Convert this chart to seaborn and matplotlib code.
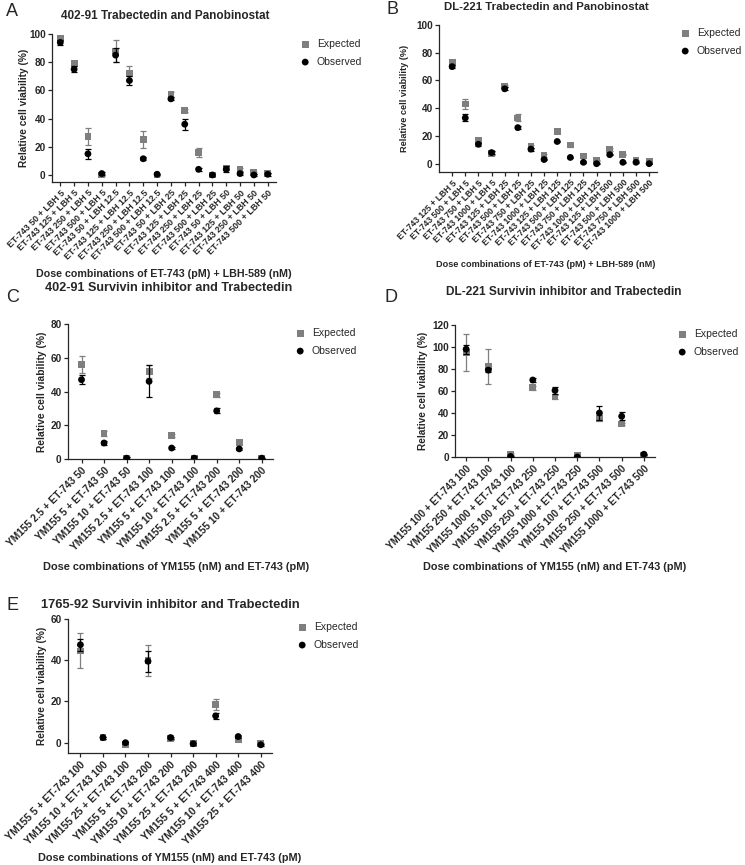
import matplotlib
matplotlib.use("Agg")
import matplotlib.pyplot as plt
import numpy as np
import pandas as pd
import seaborn as sns

# panel A: 402-91 trabectedin + panobinostat
a_labels = ["ET-743 50 + LBH 5", "ET-743 125 + LBH 5", "ET-743 250 + LBH 5", "ET-743 500 + LBH 5",
            "ET-743 50 + LBH 12.5", "ET-743 125 + LBH 12.5", "ET-743 250 + LBH 12.5", "ET-743 500 + LBH 12.5",
            "ET-743 50 + LBH 25", "ET-743 125 + LBH 25", "ET-743 250 + LBH 25", "ET-743 500 + LBH 25",
            "ET-743 50 + LBH 50", "ET-743 125 + LBH 50", "ET-743 250 + LBH 50", "ET-743 500 + LBH 50"]
a_expected = [97, 79, 27, 0, 88, 72, 25, 0, 57, 46, 16, 0, 5, 4, 1.5, 1]
a_expected_err = [1.5, 1.5, 6, 0.5, 8, 5, 6, 0.5, 1.5, 1, 3, 0.5, 1, 1, 0.5, 0.5]
a_observed = [94, 75, 15, 1, 85, 67, 11.5, 0.5, 54, 36, 4, 0, 4, 1, 0, 0.5]
a_observed_err = [1.5, 2, 3.5, 1, 5, 3.5, 1, 0.5, 1, 4, 1, 0.5, 2, 1, 0.5, 1]

# panel B: DL-221 trabectedin + panobinostat
b_labels = ["ET-743 125 + LBH 5", "ET-743 500 + LBH 5", "ET-743 750 + LBH 5", "ET-743 1000 + LBH 5",
            "ET-743 125 + LBH 25", "ET-743 500 + LBH 25", "ET-743 750 + LBH 25", "ET-743 1000 + LBH 25",
            "ET-743 125 + LBH 125", "ET-743 500 + LBH 125", "ET-743 750 + LBH 125", "ET-743 1000 + LBH 125",
            "ET-743 125 + LBH 500", "ET-743 500 + LBH 500", "ET-743 750 + LBH 500", "ET-743 1000 + LBH 500"]
b_expected = [73, 43, 17, 7.5, 56, 33, 12.5, 6, 23, 13.5, 5.5, 2.5, 10.5, 6.5, 2.5, 1.5]
b_expected_err = [1.5, 3.5, 1.5, 1, 1, 2.5, 1, 1, 1, 1.5, 0.5, 0.5, 1, 0.5, 0.5, 0.5]
b_observed = [70, 33, 14, 8, 54, 26, 10.5, 3, 16, 4.5, 1, 0, 6.5, 1, 1, 0]
b_observed_err = [1, 2.5, 1, 1, 1, 1, 1, 0.5, 0.5, 0.5, 0.5, 0.5, 0.5, 0.5, 0.5, 0.5]

# panel C: 402-91 survivin inhibitor + trabectedin
c_labels = ["YM155 2.5 + ET-743 50", "YM155 5 + ET-743 50", "YM155 10 + ET-743 50",
            "YM155 2.5 + ET-743 100", "YM155 5 + ET-743 100", "YM155 10 + ET-743 100",
            "YM155 2.5 + ET-743 200", "YM155 5 + ET-743 200", "YM155 10 + ET-743 200"]
c_expected = [56, 15, 0.5, 52, 14, 0.5, 38, 10, 0.5]
c_expected_err = [5, 1.5, 0.5, 4, 1, 0.5, 1, 0.5, 0.3]
c_observed = [47, 9.5, 0.5, 46, 6.5, 0.5, 28.5, 6, 0.5]
c_observed_err = [2.5, 1, 0.5, 9.5, 0.5, 1, 1.5, 0.5, 0.3]

# panel D: DL-221 survivin inhibitor + trabectedin
d_labels = ["YM155 100 + ET-743 100", "YM155 250 + ET-743 100", "YM155 1000 + ET-743 100",
            "YM155 100 + ET-743 250", "YM155 250 + ET-743 250", "YM155 1000 + ET-743 250",
            "YM155 100 + ET-743 500", "YM155 250 + ET-743 500", "YM155 1000 + ET-743 500"]
d_expected = [95, 82, 2.5, 63, 54.5, 1.5, 35, 30, 1]
d_expected_err = [17, 16, 1, 2, 2, 0.5, 2, 1, 0.5]
d_observed = [98, 79, 0.5, 70, 60.5, 0, 40, 37, 2.5]
d_observed_err = [4, 2, 0.5, 2, 3, 0.5, 6, 3.5, 0.5]

# panel E: 1765-92 survivin inhibitor + trabectedin
e_labels = ["YM155 5 + ET-743 100", "YM155 10 + ET-743 100", "YM155 25 + ET-743 100",
            "YM155 5 + ET-743 200", "YM155 10 + ET-743 200", "YM155 25 + ET-743 200",
            "YM155 5 + ET-743 400", "YM155 10 + ET-743 400", "YM155 25 + ET-743 400"]
e_expected = [44.5, 2.5, -1, 40, 2, -0.5, 18.5, 1.5, -0.5]
e_expected_err = [8.5, 0.5, 0.5, 7.5, 0.5, 0.5, 2.5, 0.5, 0.5]
e_observed = [47.5, 2.5, 0, 39.5, 2.5, -0.5, 13, 3, -1]
e_observed_err = [3, 0.5, 0.5, 5, 0.5, 0.5, 1.5, 0.5, 0.5]

sns.set_style("ticks")
plt.rcParams["font.family"] = ["Liberation Sans", "DejaVu Sans"]

W, H = 745, 865
fig = plt.figure(figsize=(W / 100, H / 100), dpi=100)

GRAY = "#7f7f7f"


def px_axes(left, top, right, bottom):
    return fig.add_axes([left / W, 1 - bottom / H, (right - left) / W, (bottom - top) / H])


def panel(rect, letter, letter_xy, title, title_xy, xlabel, xlabel_xy, labels, exp, exp_err, obs, obs_err,
          ylim, yticks, xlim, legend_xy, ylabel_x, tick_fs, title_fs, xlabel_fs, ylabel_fs):
    ax = px_axes(*rect)
    x = np.arange(len(labels))
    ax.errorbar(x, exp, yerr=exp_err, fmt="none", ecolor=GRAY, elinewidth=0.9, capsize=2.5,
                capthick=0.9, zorder=2)
    sns.scatterplot(x=x, y=exp, color=GRAY, marker="s", s=24, edgecolor="none", label="Expected",
                    ax=ax, zorder=3)
    ax.errorbar(x, obs, yerr=obs_err, fmt="none", ecolor="black", elinewidth=0.9, capsize=2.5,
                capthick=0.9, zorder=4)
    sns.scatterplot(x=x, y=obs, color="black", marker="o", s=24, edgecolor="none", label="Observed",
                    ax=ax, zorder=5)
    ax.set_ylim(*ylim)
    ax.set_xlim(*xlim)
    ax.set_yticks(yticks)
    ax.set_xticks(x)
    ax.set_xticklabels(labels, rotation=45, ha="right", rotation_mode="anchor",
                       fontsize=tick_fs, fontweight="bold")
    for t in ax.get_yticklabels():
        t.set_fontsize(7.2)
        t.set_fontweight("bold")
    ax.spines["left"].set_bounds(ylim[0], yticks[-1])
    ax.tick_params(axis="both", length=3, width=0.9, pad=1.5)
    for s in ("left", "bottom"):
        ax.spines[s].set_linewidth(0.9)
    sns.despine(ax=ax)
    ax.set_ylabel("Relative cell viability (%)", fontsize=ylabel_fs, fontweight="bold")
    # label anchor is the right edge of the rotated text
    ax.yaxis.set_label_coords((ylabel_x + 4 - rect[0]) / (rect[2] - rect[0]), 0.5)
    ax.set_xlabel("")
    lx, ly = legend_xy
    ax.legend(loc="upper left", bbox_to_anchor=(lx / W, 1 - ly / H), bbox_transform=fig.transFigure,
              frameon=False, fontsize=7.5, handletextpad=0.6, borderpad=0, borderaxespad=0,
              labelspacing=0.75, handlelength=1.0, markerscale=1.0)
    fig.text(letter_xy[0] / W, 1 - letter_xy[1] / H, letter, fontsize=13, ha="left", va="center")
    fig.text(title_xy[0] / W, 1 - title_xy[1] / H, title, fontsize=title_fs, fontweight="bold",
             ha="center", va="center")
    fig.text(xlabel_xy[0] / W, 1 - xlabel_xy[1] / H, xlabel, fontsize=xlabel_fs, fontweight="bold",
             ha="center", va="center")
    return ax


panel((52, 34, 276, 182), "A", (6, 12), "402-91 Trabectedin and Panobinostat", (165, 16),
      "Dose combinations of ET-743 (pM) + LBH-589 (nM)", (164, 274),
      a_labels, a_expected, a_expected_err, a_observed, a_observed_err,
      (-5, 100), [0, 20, 40, 60, 80, 100], (-0.6, 15.6), (300, 39), 25,
      tick_fs=6.4, title_fs=8.5, xlabel_fs=7.7, ylabel_fs=7.3)

panel((439, 25, 657, 172), "B", (386, 10), "DL-221 Trabectedin and Panobinostat", (546, 7),
      "Dose combinations of ET-743 (pM) + LBH-589 (nM)", (546, 264),
      b_labels, b_expected, b_expected_err, b_observed, b_observed_err,
      (-6, 100), [0, 20, 40, 60, 80, 100], (-1.0, 15.6), (680, 28), 405,
      tick_fs=6.2, title_fs=8.2, xlabel_fs=6.6, ylabel_fs=6.6)

panel((68, 324, 273, 459), "C", (6, 297), "402-91 Survivin inhibitor and Trabectedin", (169, 288),
      "Dose combinations of YM155 (nM) and ET-743 (pM)", (176, 567),
      c_labels, c_expected, c_expected_err, c_observed, c_observed_err,
      (0, 80), [0, 20, 40, 60, 80], (-0.6, 8.5), (295, 328), 43,
      tick_fs=7.3, title_fs=9.1, xlabel_fs=7.9, ylabel_fs=7.4)

panel((455, 325, 655, 457), "D", (384, 297), "DL-221 Survivin inhibitor and Trabectedin", (564, 292),
      "Dose combinations of YM155 (nM) and ET-743 (pM)", (555, 567),
      d_labels, d_expected, d_expected_err, d_observed, d_observed_err,
      (0, 120), [0, 20, 40, 60, 80, 100, 120], (-0.5, 8.5), (677, 329), 424,
      tick_fs=7.2, title_fs=8.6, xlabel_fs=7.8, ylabel_fs=7.3)

panel((68, 619, 272, 753), "E", (6, 605), "1765-92 Survivin inhibitor and Trabectedin", (170, 605),
      "Dose combinations of YM155 (nM) and ET-743 (pM)", (170, 858),
      e_labels, e_expected, e_expected_err, e_observed, e_observed_err,
      (-5, 60), [0, 20, 40, 60], (-0.55, 8.5), (297, 622), 43,
      tick_fs=7.5, title_fs=9.3, xlabel_fs=7.8, ylabel_fs=7.3)

fig.savefig("out.png", dpi=100)
